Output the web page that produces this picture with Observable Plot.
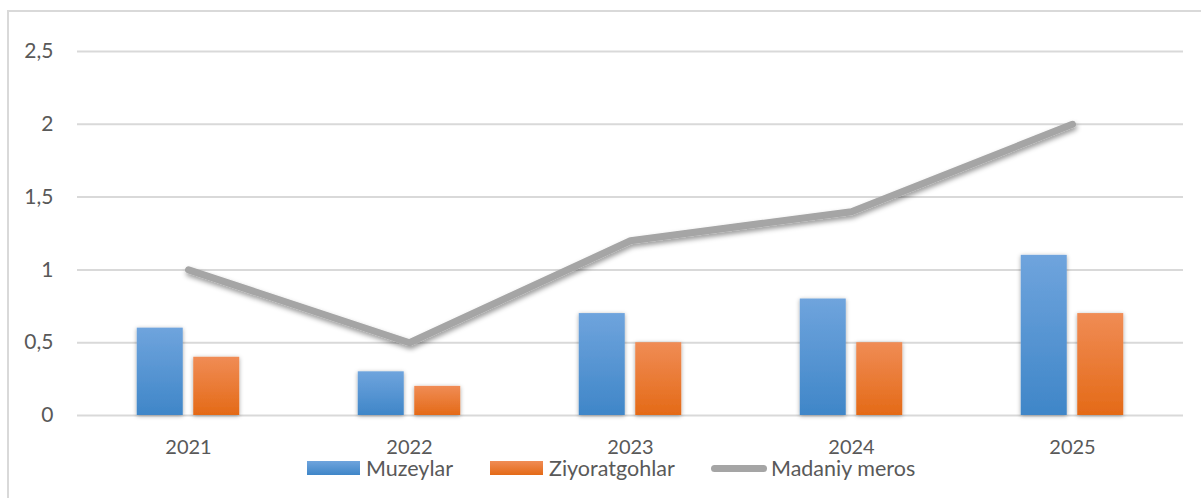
<!DOCTYPE html>
<html>
<head>
<meta charset="utf-8">
<script src="https://cdn.jsdelivr.net/npm/d3@7"></script>
<script src="https://cdn.jsdelivr.net/npm/@observablehq/plot@0.6"></script>
<style>
  html, body { margin: 0; padding: 0; background: #fff; }
  #wrap { position: relative; width: 1201px; height: 498px; overflow: hidden; background: #fff; font-family: Lato, "Open Sans", sans-serif; }
  #frame { position: absolute; left: 7px; top: 10px; width: 1300px; height: 600px; border: 2px solid #d9d9d9; box-sizing: border-box; }
  #chart { position: absolute; left: 0; top: 0; }
  #chart g[aria-label^="y-axis"] text { font-size: 21px !important; }
  #chart g[aria-label^="x-axis"] text { font-size: 20px !important; }
  .leg { position: absolute; top: 456px; height: 24px; display: flex; align-items: center; font-size: 21.5px; color: #595959; white-space: nowrap; }
  .sw { display: inline-block; height: 14px; margin-right: 6px; }
  .sw.line { height: 7px; border-radius: 4px; background: #a5a5a5; margin-right: 4px; }
</style>
</head>
<body>
<div id="wrap">
  <div id="frame"></div>
  <div id="chart"></div>
  <div id="legend"></div>
</div>
<script>
const years = ["2021", "2022", "2023", "2024", "2025"];
const muzeylar = [0.6, 0.3, 0.7, 0.8, 1.1];
const ziyoratgohlar = [0.4, 0.2, 0.5, 0.5, 0.7];
const madaniyMeros = [1, 0.5, 1.2, 1.4, 2];
const yTicks = [0, 0.5, 1, 1.5, 2, 2.5];
const seriesNames = ["Muzeylar", "Ziyoratgohlar", "Madaniy meros"];

const barsA = years.map((y, i) => ({year: y, value: muzeylar[i]}));
const barsB = years.map((y, i) => ({year: y, value: ziyoratgohlar[i]}));
const lineData = years.map((y, i) => ({year: y, value: madaniyMeros[i]}));

const W = 1201, H = 470;
const bandFrac = 46 / 221.2;
const pInner = 1 - bandFrac;

const plot = Plot.plot({
  width: W,
  height: H,
  marginLeft: 77,
  marginRight: 18,
  marginTop: 51,
  marginBottom: H - 415,
  style: {fontFamily: "Lato, 'Open Sans', sans-serif", color: "#595959", background: "transparent", overflow: "visible"},
  x: {type: "band", domain: years, paddingInner: pInner, paddingOuter: pInner / 2, label: null},
  y: {domain: [0, 2.5], label: null},
  marks: [
    Plot.ruleY(yTicks, {stroke: "#d9d9d9", strokeWidth: 2}),
    Plot.barY(barsA, {x: "year", y: "value", fill: "url(#gBlue)", dx: -28.25}),
    Plot.barY(barsB, {x: "year", y: "value", fill: "url(#gOrange)", dx: 28.25}),
    Plot.line(lineData, {x: "year", y: "value", stroke: "#a5a5a5", strokeWidth: 7, strokeLinecap: "round", strokeLinejoin: "miter"}),
    Plot.axisY({ticks: yTicks, tickSize: 0, tickPadding: 24, fontSize: 21, tickFormat: d => String(d).replace(".", ","), fill: "#595959"}),
    Plot.axisX({tickSize: 0, tickPadding: 24, fontSize: 20, fill: "#595959"})
  ]
});

const svg = d3.select(plot);
const defs = svg.insert("defs", ":first-child");
const gb = defs.append("linearGradient").attr("id", "gBlue").attr("x1", 0).attr("y1", 0).attr("x2", 0).attr("y2", 1);
gb.append("stop").attr("offset", "0%").attr("stop-color", "#6fa4dd");
gb.append("stop").attr("offset", "100%").attr("stop-color", "#3f86c8");
const go = defs.append("linearGradient").attr("id", "gOrange").attr("x1", 0).attr("y1", 0).attr("x2", 0).attr("y2", 1);
go.append("stop").attr("offset", "0%").attr("stop-color", "#f08c55");
go.append("stop").attr("offset", "100%").attr("stop-color", "#e46a17");
const fb = defs.append("filter").attr("id", "shBar").attr("filterUnits", "userSpaceOnUse").attr("x", 0).attr("y", 0).attr("width", W).attr("height", H);
fb.append("feDropShadow").attr("dx", 0).attr("dy", 1).attr("stdDeviation", 2).attr("flood-color", "#000").attr("flood-opacity", 0.35);
const fl = defs.append("filter").attr("id", "shLine").attr("filterUnits", "userSpaceOnUse").attr("x", 0).attr("y", 0).attr("width", W).attr("height", H);
fl.append("feDropShadow").attr("dx", 1).attr("dy", 3).attr("stdDeviation", 2.5).attr("flood-color", "#000").attr("flood-opacity", 0.4);

svg.selectAll('g[aria-label="bar"] rect').attr("filter", "url(#shBar)");
svg.selectAll('g[aria-label="line"] path').attr("filter", "url(#shLine)");

document.getElementById("chart").appendChild(plot);

// Legend
const legendItems = [
  {name: seriesNames[0], left: 307, sw: 53, bg: "linear-gradient(#6fa4dd, #3f86c8)", cls: ""},
  {name: seriesNames[1], left: 490, sw: 53, bg: "linear-gradient(#f08c55, #e46a17)", cls: ""},
  {name: seriesNames[2], left: 711, sw: 56, bg: "#a5a5a5", cls: "line"}
];
const leg = d3.select("#legend");
legendItems.forEach(it => {
  const d = leg.append("div").attr("class", "leg").style("left", it.left + "px");
  d.append("span").attr("class", "sw " + it.cls).style("width", it.sw + "px").style("background", it.bg);
  d.append("span").text(it.name);
});
</script>
</body>
</html>
